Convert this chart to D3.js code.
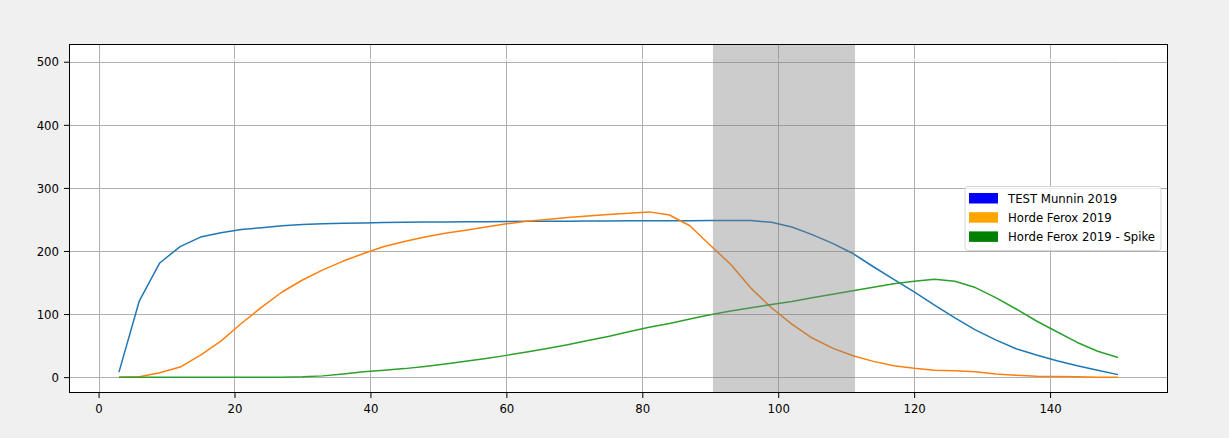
<!DOCTYPE html>
<html>
<head>
<meta charset="utf-8">
<script src="https://cdn.jsdelivr.net/npm/d3@7"></script>
<style>
  body { margin: 0; background: #f0f0f0; }
  svg { display: block; }
  text { font-family: "DejaVu Sans Condensed", "DejaVu Sans", sans-serif; }
</style>
</head>
<body>
<svg></svg>
<script>
// data
var xs = [3, 6, 9, 12, 15, 18, 21, 24, 27, 30, 33, 36, 39, 42, 45, 48, 51, 54, 57, 60,
  63, 66, 69, 72, 75, 78, 81, 84, 87, 90, 93, 96, 99, 102, 105, 108, 111, 114, 117, 120,
  123, 126, 129, 132, 135, 138, 141, 144, 147, 150];

var munnin = [8, 121, 181, 207, 222, 229, 234, 237, 240, 242, 243, 244, 244.5, 245, 245.5, 246, 246, 246.3, 246.5, 246.8,
  247, 247, 247.2, 247.4, 247.6, 247.8, 248, 248, 248, 248.2, 248.4, 248.2, 245.5, 238, 226, 212, 196, 175, 155, 135,
  114, 94, 75, 59, 45, 35, 26, 18, 11, 4];

var ferox = [0, 0.5, 7, 16, 35, 57, 85, 111, 135, 154, 170, 184, 196, 207, 215, 222, 228, 233, 238, 243,
  247, 250, 253, 255.5, 258, 260, 262, 257, 240, 209, 179, 141, 110, 84, 62, 46, 34, 25, 18, 14,
  11, 10, 8.5, 5, 3, 1.5, 1, 0.5, 0, 0];

var spike = [0, 0, 0, 0, 0, 0, 0, 0, 0, 0.5, 2, 5, 8.5, 11, 13.5, 17, 21, 25, 29.5, 34.5,
  40, 45.5, 51.5, 58, 64.5, 72, 79, 85, 92, 99, 105, 110, 115, 120, 126, 131.5, 137, 142.5, 148, 152,
  155, 152, 142, 126, 108, 89, 72, 55, 41, 31];

// faint helper line near the top that sets the y range
var ceilX = [3, 150];
var ceilY = [503, 503];

var spanStart = 90.4, spanEnd = 111.3;

var xTicks = [0, 20, 40, 60, 80, 100, 120, 140];
var yTicks = [0, 100, 200, 300, 400, 500];

var seriesNames = ["TEST Munnin 2019", "Horde Ferox 2019", "Horde Ferox 2019 - Spike"];
var lineColors = ["#1f77b4", "#ff7f0e", "#2ca02c"];
var legendColors = ["#0000ff", "#ffa500", "#008000"];

// set the dimensions and margins of the graph
var margin = { top: 44, right: 61, bottom: 45, left: 69 },
  width = 1229 - margin.left - margin.right,
  height = 438 - margin.top - margin.bottom;

var svg = d3.select("svg")
  .attr("width", width + margin.left + margin.right)
  .attr("height", height + margin.top + margin.bottom)
  .append("g")
  .attr("transform", "translate(" + margin.left + "," + margin.top + ")");

var x = d3.scaleLinear().domain([-4.35, 157.35]).range([0, width]);
var y = d3.scaleLinear().domain([-25.15, 528.15]).range([height, 0]);

// plot background
svg.append("rect")
  .attr("width", width)
  .attr("height", height)
  .attr("fill", "white");

// grid
svg.append("g").selectAll("line").data(xTicks).enter()
  .append("line")
  .attr("x1", function (d) { return Math.round(x(d)) + 0.5; })
  .attr("x2", function (d) { return Math.round(x(d)) + 0.5; })
  .attr("y1", 0)
  .attr("y2", height)
  .attr("stroke", "#b0b0b0")
  .attr("stroke-width", 1);

svg.append("g").selectAll("line").data(yTicks).enter()
  .append("line")
  .attr("y1", function (d) { return Math.round(y(d)) + 0.5; })
  .attr("y2", function (d) { return Math.round(y(d)) + 0.5; })
  .attr("x1", 0)
  .attr("x2", width)
  .attr("stroke", "#b0b0b0")
  .attr("stroke-width", 1);

// lines
var line = d3.line()
  .x(function (d) { return x(d[0]); })
  .y(function (d) { return y(d[1]); });

svg.append("path")
  .datum(d3.zip(ceilX, ceilY))
  .attr("d", line)
  .attr("fill", "none")
  .attr("stroke", "#f8f8f8")
  .attr("stroke-width", 1.5);

[munnin, ferox, spike].forEach(function (vals, i) {
  svg.append("path")
    .datum(d3.zip(xs, vals))
    .attr("d", line)
    .attr("fill", "none")
    .attr("stroke", lineColors[i])
    .attr("stroke-width", 1.5)
    .attr("stroke-linejoin", "round");
});

// shaded span, translucent, on top of the lines
svg.append("rect")
  .attr("x", x(spanStart))
  .attr("y", 0)
  .attr("width", x(spanEnd) - x(spanStart))
  .attr("height", height)
  .attr("fill", "#808080")
  .attr("fill-opacity", 0.4);

// axes
var xAxis = svg.append("g")
  .attr("transform", "translate(0," + height + ")")
  .call(d3.axisBottom(x).tickValues(xTicks).tickSize(5).tickPadding(6).tickSizeOuter(0));

var yAxis = svg.append("g")
  .call(d3.axisLeft(y).tickValues(yTicks).tickSize(5).tickPadding(5).tickSizeOuter(0));

[xAxis, yAxis].forEach(function (a) {
  a.select(".domain").remove();
  a.selectAll("text")
    .attr("fill", "black")
    .style("font-size", "13px")
    .style("font-family", "'DejaVu Sans Condensed', 'DejaVu Sans', sans-serif");
});

// frame
svg.append("rect")
  .attr("x", 0.5)
  .attr("y", 0.5)
  .attr("width", width - 1)
  .attr("height", height - 1)
  .attr("fill", "none")
  .attr("stroke", "black")
  .attr("stroke-width", 1);

// legend
var legW = 196, legH = 64;
var legend = svg.append("g")
  .attr("transform", "translate(" + (width - 7 - legW) + "," + (height / 2 - legH / 2) + ")");

legend.append("rect")
  .attr("width", legW)
  .attr("height", legH)
  .attr("rx", 3)
  .attr("fill", "white")
  .attr("fill-opacity", 0.8)
  .attr("stroke", "#d6d6d6");

seriesNames.forEach(function (name, i) {
  var row = legend.append("g")
    .attr("transform", "translate(4," + (11.5 + i * 19.2) + ")");
  row.append("rect")
    .attr("x", 0)
    .attr("y", -5)
    .attr("width", 29)
    .attr("height", 10.5)
    .attr("fill", legendColors[i]);
  row.append("text")
    .attr("x", 39)
    .attr("y", 0)
    .attr("dy", "0.36em")
    .style("font-size", "13px")
    .text(name);
});
</script>
</body>
</html>
